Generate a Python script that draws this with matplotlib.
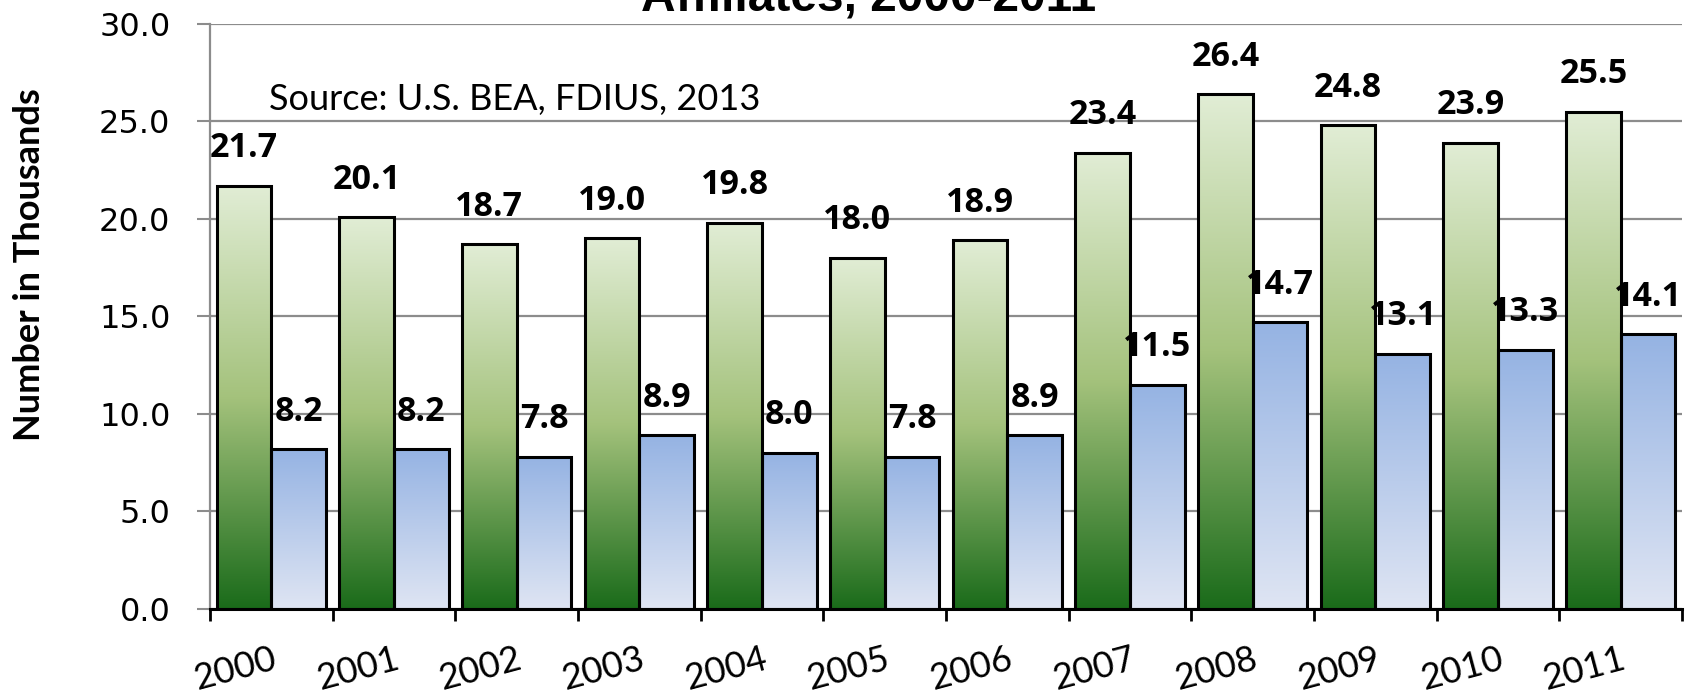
import numpy as np
import matplotlib
matplotlib.use("Agg")
import matplotlib.pyplot as plt
from matplotlib.colors import LinearSegmentedColormap

years = ["2000", "2001", "2002", "2003", "2004", "2005", "2006",
         "2007", "2008", "2009", "2010", "2011"]
green_vals = [21.7, 20.1, 18.7, 19.0, 19.8, 18.0, 18.9, 23.4, 26.4, 24.8, 23.9, 25.5]
blue_vals = [8.2, 8.2, 7.8, 8.9, 8.0, 7.8, 8.9, 11.5, 14.7, 13.1, 13.3, 14.1]
yticks = [0, 5, 10, 15, 20, 25, 30]

# gradients, bottom -> top
green_cmap = LinearSegmentedColormap.from_list(
    "g", [(0.0, "#1a6b1a"), (0.5, "#a4c27c"), (1.0, "#e1edd5")])
blue_cmap = LinearSegmentedColormap.from_list(
    "b", [(0.0, "#dfe5f3"), (1.0, "#95b3e3")])

fig = plt.figure(figsize=(16.91, 6.94), dpi=100)
ax = fig.add_axes([0.1242, 0.1225, 0.8705, 0.843])

x = np.arange(len(years))
w = 0.445
bars_g = ax.bar(x - w / 2, green_vals, w, facecolor="none", edgecolor="black",
                linewidth=2.2, zorder=3)
bars_b = ax.bar(x + w / 2, blue_vals, w, facecolor="none", edgecolor="black",
                linewidth=2.2, zorder=3)

grad = np.linspace(0, 1, 256).reshape(-1, 1)
for bars, cmap in [(bars_g, green_cmap), (bars_b, blue_cmap)]:
    for p in bars:
        x0, y0 = p.get_x(), p.get_y()
        im = ax.imshow(grad, cmap=cmap, origin="lower", aspect="auto",
                       extent=[x0, x0 + p.get_width(), y0, y0 + p.get_height()],
                       zorder=2)
        im.set_clip_path(p)

for bars, vals in [(bars_g, green_vals), (bars_b, blue_vals)]:
    for p, v in zip(bars, vals):
        ax.annotate(f"{v:.1f}", (p.get_x() + p.get_width() / 2, v),
                    xytext=(0, 27), textcoords="offset points",
                    ha="center", va="center", fontsize=24.5, fontweight="bold",
                    family="Open Sans", zorder=5)

ax.set_xlim(-0.5, len(years) - 0.5)
ax.set_ylim(0, 30)
ax.set_yticks(yticks)
ax.set_yticklabels([f"{t:.1f}" for t in yticks], family="DejaVu Sans", fontsize=23)
ax.yaxis.grid(True, color="#8c8c8c", linewidth=1.6)
ax.set_axisbelow(True)
ax.tick_params(axis="y", length=9.5, width=1.5, color="#8c8c8c", pad=19)

ax.set_xticks(x)
ax.set_xticklabels(years, rotation=15, ha="right", rotation_mode="anchor",
                   family="Lato", fontsize=26)
ax.tick_params(axis="x", which="major", length=0, pad=24)
ax.set_xticks(np.arange(-0.5, len(years)), minor=True)
ax.tick_params(axis="x", which="minor", length=8.6, width=2, color="black")

for s in ["top", "right"]:
    ax.spines[s].set_visible(False)
ax.spines["left"].set_color("#8c8c8c")
ax.spines["left"].set_linewidth(1.6)
ax.spines["bottom"].set_color("black")
ax.spines["bottom"].set_linewidth(2.2)
ax.spines["bottom"].set_zorder(4)

fig.text(30 / 1691, 1 - 265 / 694, "Number in Thousands", rotation=90,
         ha="center", va="center", fontsize=26, fontweight="bold", family="Lato")
ax.text(0.04, 0.87, "Source: U.S. BEA, FDIUS, 2013", transform=ax.transAxes,
        ha="left", va="center", fontsize=26, family="Lato")
fig.text(869 / 1691, 1 - 11 / 694, "Affiliates, 2000-2011", ha="center",
         va="baseline", fontsize=34.5, fontweight="bold", family="Liberation Sans")

fig.savefig("out.png", dpi=100)
